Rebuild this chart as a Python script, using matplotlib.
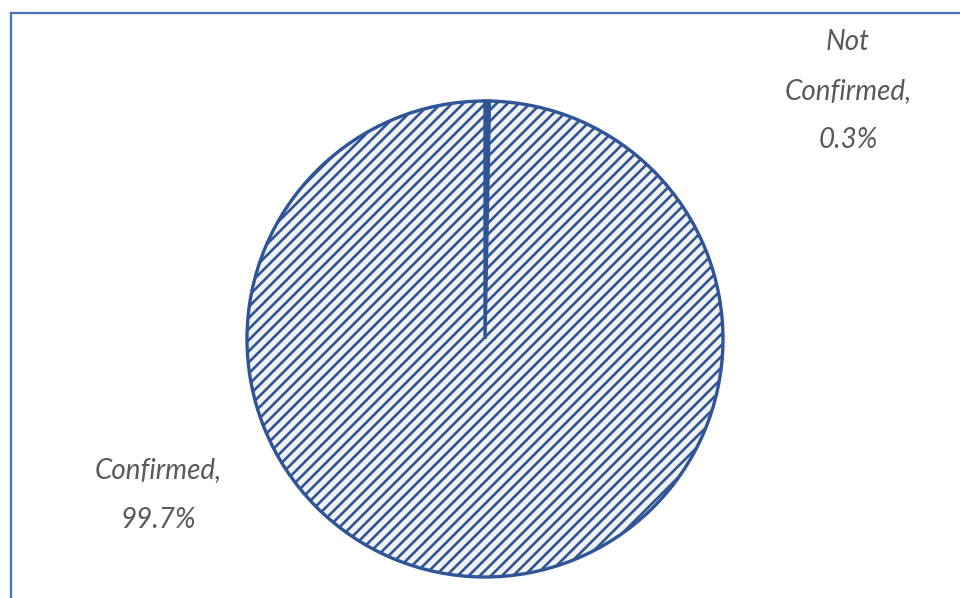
import matplotlib
matplotlib.use("Agg")
import matplotlib.pyplot as plt
from matplotlib.lines import Line2D

categories = ["Not Confirmed", "Confirmed"]
values = [0.3, 99.7]
labels = ["Not\nConfirmed,\n0.3%", "Confirmed,\n99.7%"]

W, H = 960, 598
plt.rcParams['hatch.linewidth'] = 1.9
plt.rcParams['hatch.color'] = '#2F5597'

fig = plt.figure(figsize=(W / 100, H / 100), dpi=100)
ax = fig.add_axes([0, 0, 1, 1])

wedges, _ = ax.pie(values, startangle=90, counterclock=False,
                   center=(485, H - 339), radius=238,
                   colors=['#2F5597', '#F2F2F2'],
                   wedgeprops=dict(edgecolor='#2F5597', linewidth=2.4, hatch='///'),
                   frame=True)
ax.set_xlim(0, W)
ax.set_ylim(0, H)
ax.set_aspect('equal')
ax.axis('off')

font = dict(family=['Lato', 'DejaVu Sans'], style='italic', fontsize=20,
            color='#595959', ha='center', va='center', linespacing=2.1)
ax.text(848, H - 91, labels[0], **font)
ax.text(158, H - 495, labels[1], **font)

# chart border (left and top visible)
bc = '#4472C4'
fig.add_artist(Line2D([10.5 / W, 10.5 / W], [0, 1 - 12.5 / H], color=bc, lw=1.6,
                      transform=fig.transFigure, solid_capstyle='projecting'))
fig.add_artist(Line2D([10.5 / W, 1.0], [1 - 12.5 / H, 1 - 12.5 / H], color=bc, lw=1.6,
                      transform=fig.transFigure, solid_capstyle='projecting'))

fig.savefig('out.png', dpi=100, facecolor='white')
